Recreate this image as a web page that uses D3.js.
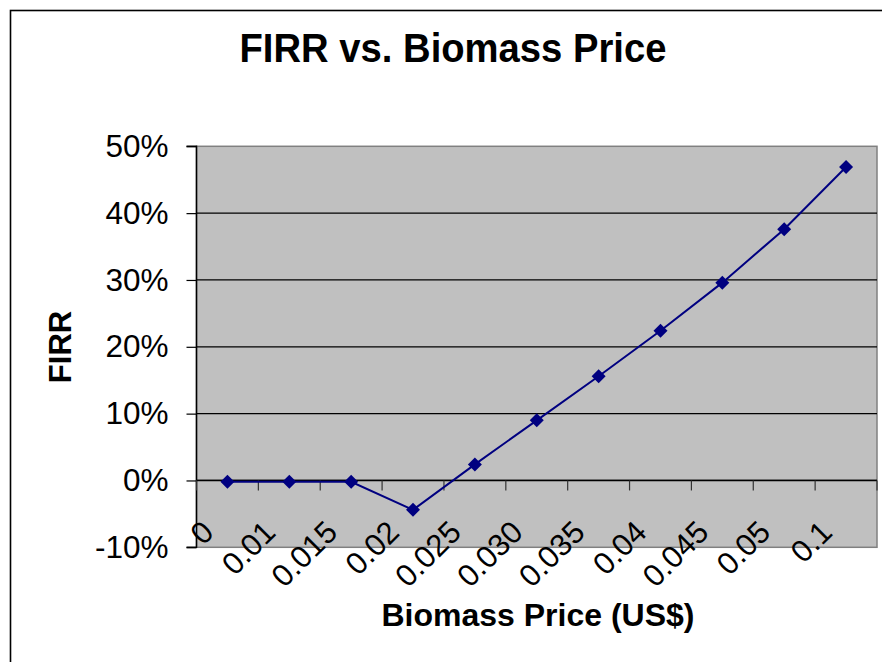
<!DOCTYPE html>
<html>
<head>
<meta charset="utf-8">
<script src="https://cdn.jsdelivr.net/npm/d3@7"></script>
<style>
    body { margin: 0; background: #fff; }
    svg { display: block; font-family: "Liberation Sans", Arial, sans-serif; }
</style>
</head>
<body>
<svg id="firr-chart"></svg>
<script>
// chart data
const categories = ["0", "0.01", "0.015", "0.02", "0.025", "0.030", "0.035", "0.04", "0.045", "0.05", "0.1"];
const firrValues = [-0.002, -0.002, -0.002, -0.044, 0.024, 0.090, 0.156, 0.224, 0.296, 0.376, 0.469];
const yTicks = [-0.1, 0, 0.1, 0.2, 0.3, 0.4, 0.5];

function drawChartFirr() {
    var wtot = 882,
        htot = 662;

    // plot area
    var plot = { left: 196.5, right: 877, top: 146.3, bottom: 547.3 };

    const svg = d3.select("#firr-chart")
        .attr("width", wtot)
        .attr("height", htot)
        .attr("viewBox", "0 0 " + wtot + " " + htot);

    // scales
    const xScale = d3.scaleBand(categories, [plot.left, plot.right]);
    const yScale = d3.scaleLinear([-0.1, 0.5], [plot.bottom, plot.top]);
    const xc = d => xScale(d) + xScale.bandwidth() / 2;

    // chart border (only left/top show inside the window)
    svg.append("rect")
        .attr("x", 10.5)
        .attr("y", 10.5)
        .attr("width", 1000)
        .attr("height", 1000)
        .attr("fill", "none")
        .attr("stroke", "#000")
        .attr("stroke-width", 1.6);

    // grey plot background
    svg.append("rect")
        .attr("x", plot.left)
        .attr("y", plot.top)
        .attr("width", plot.right - plot.left)
        .attr("height", plot.bottom - plot.top)
        .attr("fill", "#c0c0c0")
        .attr("stroke", "#808080")
        .attr("stroke-width", 1.5);

    // gridlines
    svg.append("g")
        .selectAll("line")
        .data(yTicks.filter(t => t > -0.1 && t < 0.5))
        .join("line")
        .attr("x1", plot.left)
        .attr("x2", plot.right)
        .attr("y1", d => yScale(d))
        .attr("y2", d => yScale(d))
        .attr("stroke", "#000")
        .attr("stroke-width", 1.2);

    // y axis
    const yAxis = d3.axisLeft(yScale)
        .tickValues(yTicks)
        .tickSize(10)
        .tickPadding(18)
        .tickFormat(d3.format(".0%"));

    svg.append("g")
        .attr("transform", `translate(${plot.left},0)`)
        .call(yAxis)
        .call(g => g.select(".domain").attr("stroke-width", 1.5).attr("d", `M-10,${plot.top}H0V${plot.bottom}H-10`))
        .call(g => g.selectAll(".tick line").attr("stroke-width", 1.2))
        .call(g => g.selectAll(".tick text")
            .attr("font-family", "Liberation Sans, Arial, sans-serif")
            .attr("font-size", 31.5)
            .attr("fill", "#000")
            .text(d => d3.format(".0%")(d).replace("−", "-")));

    // x axis at 0%, ticks at category boundaries
    const boundaries = d3.range(categories.length + 1).map(i => plot.left + i * xScale.step());
    const xAxisG = svg.append("g");
    xAxisG.append("line")
        .attr("x1", plot.left)
        .attr("x2", plot.right)
        .attr("y1", yScale(0))
        .attr("y2", yScale(0))
        .attr("stroke", "#000")
        .attr("stroke-width", 1.4);
    xAxisG.selectAll(".xtick")
        .data(boundaries)
        .join("line")
        .attr("class", "xtick")
        .attr("x1", d => d)
        .attr("x2", d => d)
        .attr("y1", yScale(0))
        .attr("y2", yScale(0) + 10)
        .attr("stroke", "#333")
        .attr("stroke-width", 1.2);

    // rotated category labels
    xAxisG.selectAll(".xlabel")
        .data(categories)
        .join("text")
        .attr("class", "xlabel")
        .attr("text-anchor", "end")
        .attr("font-size", 31)
        .attr("transform", d => `translate(${xc(d) - 12},534) rotate(-45)`)
        .text(d => d);

    // line
    const line = d3.line()
        .x((d, i) => xc(categories[i]))
        .y(d => yScale(d));

    svg.append("path")
        .datum(firrValues)
        .attr("fill", "none")
        .attr("stroke", "#000080")
        .attr("stroke-width", 2)
        .attr("d", line);

    // diamond markers
    const diamond = {
        draw(context, size) {
            const r = Math.sqrt(size / 2);
            context.moveTo(0, -r);
            context.lineTo(r, 0);
            context.lineTo(0, r);
            context.lineTo(-r, 0);
            context.closePath();
        }
    };
    svg.append("g")
        .selectAll("path")
        .data(firrValues)
        .join("path")
        .attr("transform", (d, i) => `translate(${xc(categories[i])},${yScale(d)})`)
        .attr("d", d3.symbol(diamond, 98))
        .attr("fill", "#000080");

    // titles
    svg.append("text")
        .attr("x", 453)
        .attr("y", 62)
        .attr("text-anchor", "middle")
        .attr("font-size", 40)
        .attr("font-weight", "bold")
        .attr("textLength", 427)
        .attr("lengthAdjust", "spacingAndGlyphs")
        .text("FIRR vs. Biomass Price");

    svg.append("text")
        .attr("x", 538)
        .attr("y", 626)
        .attr("text-anchor", "middle")
        .attr("font-size", 32)
        .attr("font-weight", "bold")
        .text("Biomass Price (US$)");

    svg.append("text")
        .attr("transform", "translate(71,347) rotate(-90)")
        .attr("text-anchor", "middle")
        .attr("font-size", 31)
        .attr("font-weight", "bold")
        .text("FIRR");
}

drawChartFirr();
</script>
</body>
</html>
